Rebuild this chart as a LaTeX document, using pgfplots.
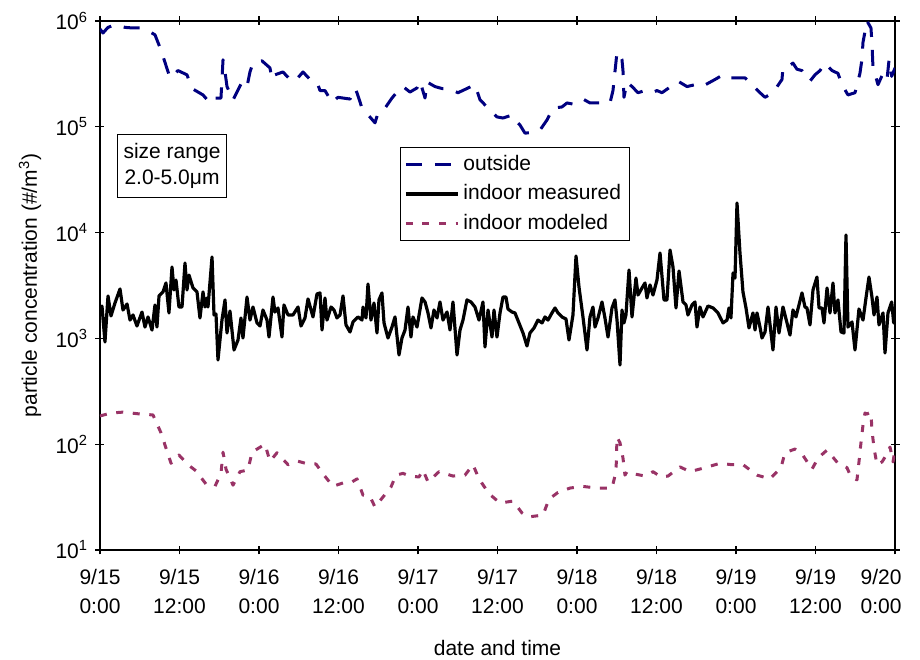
\documentclass[border=0pt]{standalone}
\usepackage{fontspec}
\setmainfont{Liberation Sans}
\usepackage{pgfplots}
\pgfplotsset{compat=1.18}
\definecolor{outnavy}{RGB}{0,0,128}
\definecolor{modmag}{RGB}{153,51,102}
\begin{document}
\fontsize{10.5}{13}\selectfont
\begin{tikzpicture}
\path[use as bounding box] (-50pt,-54.5pt) rectangle (410pt,275pt);
\begin{axis}[
  at={(0,0)}, anchor=south west,
  scale only axis, width=397.5pt, height=264.5pt,
  xmin=0, xmax=120, ymode=log, ymin=10, ymax=1e6,
  xtick={0,12,...,120},
  xticklabels={{9/15\\[1.6pt]0:00},{9/15\\[1.6pt]12:00},{9/16\\[1.6pt]0:00},{9/16\\[1.6pt]12:00},{9/17\\[1.6pt]0:00},{9/17\\[1.6pt]12:00},{9/18\\[1.6pt]0:00},{9/18\\[1.6pt]12:00},{9/19\\[1.6pt]0:00},{9/19\\[1.6pt]12:00},{\hspace*{-14pt}9/20\\[1.6pt]\hspace*{-14pt}0:00}},
  xticklabel style={align=center, font=\fontsize{10.5}{13}\selectfont, yshift=-3.5pt},
  ytick={10,100,1000,10000,100000,1000000},
  yticklabels={10\textsuperscript{1},10\textsuperscript{2},10\textsuperscript{3},10\textsuperscript{4},10\textsuperscript{5},10\textsuperscript{6}},
  yticklabel style={font=\fontsize{10.5}{13}\selectfont},
  tick align=center, major tick length=4.5pt, minor tick length=0pt,
  tick style={black, line width=0.7pt},
  axis line style={line width=0.8pt},
  xlabel={date and time},
  ylabel={particle concentration (\#/m\textsuperscript{3})},
  xlabel style={at={(axis description cs:0.5,-0.185)}, anchor=center},
  ylabel style={at={(axis description cs:-0.088,0.5)}, anchor=center},
  legend style={at={(rel axis cs:0.377,0.762)}, anchor=north west, draw=black, line width=0.5pt,
    font=\fontsize{10.5}{13}\selectfont, row sep=1.5pt, inner xsep=2pt, inner ysep=2pt},
  legend cell align=left,
  legend image code/.code={\draw[#1] (0pt,0pt) -- (26pt,0pt);},
]
\addplot[outnavy, line width=1.5pt, line join=round, dash pattern=on 8pt off 6.5pt] coordinates {
(0,8.4e5)(0.45,7.7e5)(1.2,8.7e5)(2.26,9.2e5)(3.8,8.7e5)(4.83,8.6e5)(6.04,8.6e5)(7.09,8.2e5)(8.3,7.4e5)(9.21,5.3e5)(9.96,3.8e5)(10.57,2.9e5)(11.77,3.4e5)(13.13,3.1e5)(13.89,2.3e5)(15.55,2.0e5)(16.6,1.68e5)(17.36,1.87e5)(18.26,1.87e5)(18.57,4.3e5)(18.87,3.3e5)(19.17,2.4e5)(20.08,1.79e5)(21.43,2.65e5)(22.19,2.4e5)(22.64,3.3e5)(23.09,4.0e5)(24.45,4.2e5)(25.66,3.6e5)(25.96,2.8e5)(26.41,3.1e5)(27.62,3.3e5)(28.68,2.8e5)(29.43,2.7e5)(30.64,3.3e5)(31.7,2.8e5)(32.75,2.65e5)(33.21,2.2e5)(33.96,2.2e5)(35.02,1.7e5)(35.92,1.9e5)(37.74,1.83e5)(38.49,2.3e5)(38.79,2.1e5)(39.55,1.5e5)(40.45,1.3e5)(41.51,1.09e5)(41.96,1.35e5)(43.02,1.5e5)(44.07,1.87e5)(44.83,2.13e5)(45.73,2.4e5)(46.79,2.13e5)(47.85,2.33e5)(48.3,2.7e5)(49.06,1.87e5)(49.36,2.65e5)(50.56,2.4e5)(51.62,2.3e5)(52.53,2.3e5)(54.04,2.1e5)(55.39,2.3e5)(56.6,2.5e5)(57.36,1.8e5)(58.87,1.44e5)(59.92,1.24e5)(60.83,1.21e5)(62.19,1.29e5)(62.94,1.11e5)(63.39,1.04e5)(64.15,8.7e4)(65.36,8.9e4)(66.41,9.3e4)(67.47,1.16e5)(68.38,1.5e5)(69.73,1.54e5)(70.49,1.68e5)(71.39,1.64e5)(72.9,1.83e5)(73.96,1.68e5)(75.47,1.68e5)(76.98,1.68e5)(77.43,2.2e5)(78.04,5.1e5)(78.49,4.7e5)(78.79,4.3e5)(78.94,3.4e5)(79.09,1.9e5)(79.55,2.65e5)(80.3,2.4e5)(81.21,2.1e5)(82.26,2.2e5)(83.32,2.1e5)(84.07,2.2e5)(84.83,2.1e5)(85.73,2.3e5)(87.24,2.7e5)(88.6,2.4e5)(89.81,2.5e5)(90.87,2.4e5)(92.83,2.8e5)(94.04,3.1e5)(94.64,2.9e5)(96.3,2.9e5)(97.36,2.9e5)(98.11,2.6e5)(99.62,2.1e5)(100.38,1.9e5)(101.58,2.1e5)(102.94,2.8e5)(103.09,3.6e5)(103.85,3.7e5)(104.6,4.0e5)(105.2,3.5e5)(105.96,3.4e5)(106.41,3.1e5)(107.17,2.7e5)(107.92,3.1e5)(108.68,3.4e5)(109.43,4.0e5)(110.49,3.4e5)(111.39,3.2e5)(112.0,2.5e5)(112.9,2.0e5)(113.96,2.1e5)(114.71,3.2e5)(115.0,4.3e5)(115.17,6.3e5)(115.77,1.0e6)(116.37,8.6e5)(116.52,6.2e5)(116.67,3.7e5)(117.43,2.5e5)(118.19,3.2e5)(118.79,2.8e5)(119.1,4.3e5)(119.5,3.0e5)(120,3.6e5)
};
\addlegendentry{outside}
\addplot[black, line width=1.6pt, line join=round] coordinates {
(0,1665)(0.3,2025)(0.75,925)(1.21,2520)(1.66,1630)(2.26,2160)(3.02,2930)(3.47,1855)(4.08,2115)(4.53,1490)(4.98,1665)(5.58,1310)(6.34,1775)(6.79,1280)(7.25,1595)(7.85,1200)(8.3,2070)(8.6,1280)(8.91,2520)(9.51,2750)(9.96,3340)(10.41,1740)(10.87,4730)(11.17,2870)(11.47,3560)(11.92,1980)(12.38,1980)(12.83,5160)(13.13,2870)(13.43,3970)(14.04,2995)(14.64,2750)(15.09,1560)(15.55,2750)(15.85,1980)(16.15,2410)(16.3,1980)(16.91,5880)(17.21,1665)(17.51,1700)(17.81,625)(18.41,1490)(18.87,2310)(19.17,1125)(19.62,1815)(20.23,777)(20.83,966)(21.28,1560)(21.58,1008)(22.19,2460)(22.64,1490)(23.09,1980)(23.7,1400)(24.15,1310)(24.6,1855)(25.21,1490)(25.51,1030)(26.11,2460)(26.41,1775)(26.87,1940)(27.47,1030)(27.77,2070)(28.38,1665)(29.13,1665)(29.89,1980)(30.34,1310)(30.94,1560)(31.4,2360)(32.15,1595)(32.75,2630)(33.21,2690)(33.51,1200)(33.96,2410)(34.26,1490)(34.87,1980)(35.32,1855)(35.77,1560)(36.23,1665)(36.68,2520)(37.13,1340)(37.74,1150)(38.19,1430)(38.94,1595)(39.55,1490)(39.7,1980)(40.15,1560)(40.45,3270)(40.9,1490)(41.36,2160)(41.81,1125)(42.11,2310)(42.56,2690)(42.87,1400)(43.47,1008)(44.07,1280)(44.53,1595)(45.13,697)(45.58,1008)(46.04,1200)(46.49,1980)(46.94,1030)(47.24,1595)(47.85,1280)(48.6,2410)(49.06,2210)(49.51,1740)(49.96,1255)(50.41,1855)(50.87,1560)(51.32,2210)(51.77,1490)(52.38,1775)(52.83,1200)(53.28,2210)(53.89,697)(54.34,1200)(54.79,1490)(55.39,2310)(56.0,2210)(56.6,1980)(57.21,1490)(57.81,2210)(58.11,830)(58.57,1855)(59.17,1030)(59.47,1855)(59.92,1030)(60.38,1740)(60.83,2460)(61.28,2460)(61.58,1895)(62.19,1775)(62.64,1740)(63.24,1400)(63.85,1125)(64.45,848)(64.9,1125)(65.51,1255)(66.11,1490)(66.72,1400)(67.17,1595)(67.62,1490)(68.22,1740)(68.68,1940)(69.13,1740)(69.73,1595)(70.34,1525)(70.79,966)(71.39,1665)(71.85,6010)(72.3,3060)(72.9,1595)(73.51,777)(73.96,1595)(74.41,1980)(74.72,1280)(75.17,1560)(75.77,2210)(76.22,1560)(76.68,1030)(77.28,1940)(77.73,2310)(78.04,1490)(78.49,561)(78.79,1855)(79.09,1400)(79.39,1665)(79.85,4430)(80.3,1595)(80.9,3720)(81.21,2570)(81.81,2995)(82.26,3340)(82.56,2410)(83.02,3200)(83.47,2570)(84.07,3560)(84.53,6420)(85.13,2310)(85.58,2310)(86.04,6850)(86.49,4730)(86.94,1940)(87.4,4340)(88.0,2210)(88.45,2070)(88.75,1665)(89.36,2070)(89.81,2210)(90.11,1280)(90.56,1980)(91.02,1595)(91.77,2025)(92.53,1940)(93.28,1740)(94.04,1400)(94.64,1490)(94.94,1940)(95.24,1560)(95.55,4150)(95.85,3720)(96.15,19060)(96.6,6420)(97.05,2750)(97.51,1940)(97.96,1255)(98.56,1740)(98.87,1200)(99.17,1740)(99.62,1280)(99.92,1008)(100.38,1150)(100.83,1980)(101.58,777)(102.04,1980)(102.49,1125)(103.09,1980)(103.7,1400)(104.15,1075)(104.6,1855)(105.05,1595)(105.96,2690)(106.41,1980)(106.71,1940)(107.17,1340)(107.62,2870)(108.22,3800)(108.53,1940)(108.98,1940)(109.28,1400)(109.74,2995)(110.19,1740)(110.64,3340)(110.94,1740)(111.39,2310)(111.85,1150)(112.3,1125)(112.6,9490)(112.9,1280)(113.51,1430)(113.96,777)(114.56,1895)(115.17,1490)(115.62,2410)(116.07,3800)(116.52,2460)(116.83,1665)(117.28,2460)(117.58,1340)(118.19,1740)(118.49,728)(118.94,1740)(119.5,2210)(119.8,1400)(120,1980)
};
\addlegendentry{indoor measured}
\addplot[modmag, line width=1.5pt, line join=round, dash pattern=on 3.5pt off 4.8pt] coordinates {
(0,185)(1.66,197)(3.47,201)(6.04,193)(8.0,189)(9.21,128)(9.96,92)(10.72,66)(11.92,79)(13.28,64)(14.49,56)(16.0,42)(17.36,40)(18.26,53)(18.57,84)(19.02,58)(20.08,41)(21.13,55)(22.34,57)(22.94,84)(24.9,100)(25.66,69)(26.72,83)(28.38,64)(29.89,69)(31.4,65)(32.6,65)(33.81,51)(35.17,40)(36.68,43)(38.04,44)(38.79,47)(39.7,33)(40.75,32)(41.51,25.5)(42.72,31.7)(43.92,39.4)(44.68,51)(45.73,53)(46.79,50)(48.15,49)(48.75,57)(49.51,44)(51.17,55)(53.28,50)(55.09,51)(56.3,64)(57.21,47)(58.72,34)(60.38,27.8)(62.34,29)(63.7,22.4)(64.6,20.5)(66.87,21.4)(67.77,30.3)(69.13,35)(70.94,38.5)(72.75,40)(75.02,38.5)(77.28,38.5)(77.89,55)(78.04,117)(78.49,103)(78.94,74)(79.24,51)(79.55,55)(80.3,53)(80.9,52)(82.26,50)(83.47,55)(84.68,49)(85.73,50)(87.55,61)(89.06,55)(91.32,60)(93.58,66)(95.39,64)(97.06,64)(99.17,51)(101.13,47)(102.79,60)(103.39,83)(104.9,90)(105.96,81)(107.47,58)(108.38,74)(109.74,88)(111.39,66)(112.75,60)(113.36,49)(114.26,46)(114.56,68)(114.86,103)(115.17,152)(115.47,197)(115.77,193)(116.37,201)(116.52,136)(116.83,92)(117.28,64)(118.04,68)(118.79,81)(119.25,94)(119.7,68)(120,88)
};
\addlegendentry{indoor modeled}
\node[draw, line width=0.5pt, align=center, inner xsep=3pt, inner ysep=4.5pt, font=\fontsize{10.5}{13}\selectfont] at (rel axis cs:0.0906,0.726) {size range\\2.0-5.0μm};
\end{axis}
\end{tikzpicture}
\end{document}
